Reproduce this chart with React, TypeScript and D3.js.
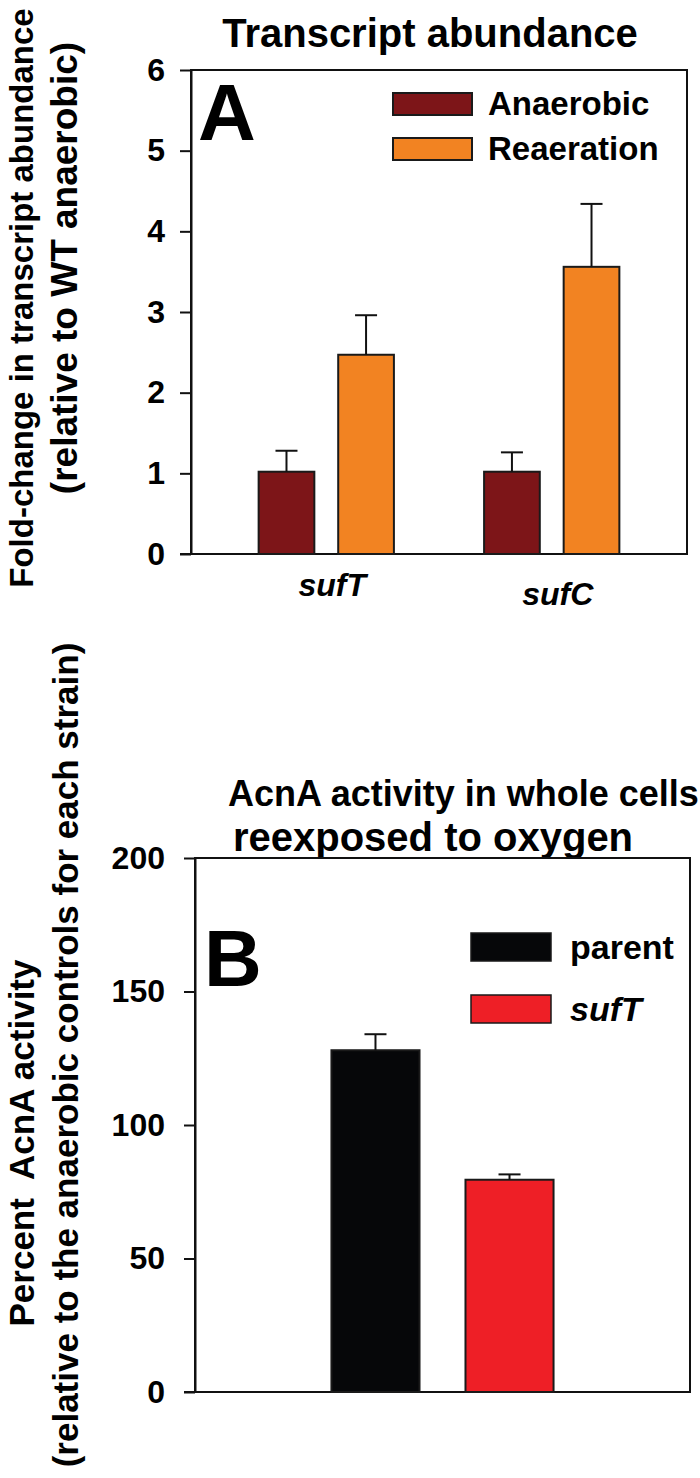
import * as d3 from 'd3';
import React, { useEffect, useRef } from 'react';

// Panel A: transcript abundance
const genes = ['sufT', 'sufC'];
const conditions = ['Anaerobic', 'Reaeration'];
const anaerobicMeans = [1.02, 1.02];
const anaerobicErrors = [0.26, 0.24];
const reaerationMeans = [2.47, 3.56];
const reaerationErrors = [0.49, 0.78];
const transcriptTicks = [0, 1, 2, 3, 4, 5, 6];

// Panel B: AcnA activity
const strains = ['parent', 'sufT'];
const activityMeans = [128, 79.5];
const activityErrors = [6, 2];
const activityTicks = [0, 50, 100, 150, 200];

const FONT = '"Liberation Sans", Arial, Helvetica, sans-serif';

export default function App() {
  const ref = useRef<SVGSVGElement>(null);

  useEffect(() => {
    if (!ref.current) return;
    document.body.style.margin = '0';
    const svg = d3.select(ref.current);
    svg.selectAll('*').remove();
    svg.attr('font-family', FONT).attr('font-weight', 'bold');

    // ---------- Panel A ----------
    const a = { left: 191, right: 687, top: 70, bottom: 554 };
    const yA = d3.scaleLinear().domain([0, 6]).range([a.bottom, a.top]);
    const xA = d3
      .scaleBand<string>()
      .domain(genes)
      .range([a.left, a.right])
      .paddingInner(0.4)
      .paddingOuter(0.3);
    const xInner = d3
      .scaleBand<string>()
      .domain(conditions)
      .range([0, xA.bandwidth()])
      .paddingInner(0.3);
    const colorA = d3.scaleOrdinal<string>().domain(conditions).range(['#7d1518', '#f28322']);

    const gA = svg.append('g');
    gA.append('text')
      .attr('x', 430)
      .attr('y', 47)
      .attr('text-anchor', 'middle')
      .attr('font-size', 40)
      .text('Transcript abundance');

    gA.append('rect')
      .attr('x', a.left)
      .attr('y', a.top)
      .attr('width', a.right - a.left)
      .attr('height', a.bottom - a.top)
      .attr('fill', 'none')
      .attr('stroke', '#111')
      .attr('stroke-width', 2);

    const axA = gA
      .append('g')
      .attr('transform', `translate(${a.left},0)`)
      .call(
        d3
          .axisLeft(yA)
          .tickValues(transcriptTicks)
          .tickFormat(d3.format('d'))
          .tickSize(11)
          .tickSizeOuter(0)
          .tickPadding(15)
      );
    axA.selectAll('path,line').attr('stroke', '#111').attr('stroke-width', 2);
    axA.selectAll('text').attr('font-size', 32).attr('fill', '#000').attr('font-family', FONT);
    gA.append('line')
      .attr('x1', a.left - 11)
      .attr('x2', a.right)
      .attr('y1', a.bottom)
      .attr('y2', a.bottom)
      .attr('stroke', '#111')
      .attr('stroke-width', 2);

    const rowsA = genes.flatMap((g, i) => [
      { gene: g, cond: conditions[0], v: anaerobicMeans[i], e: anaerobicErrors[i] },
      { gene: g, cond: conditions[1], v: reaerationMeans[i], e: reaerationErrors[i] },
    ]);
    const midA = (d: { gene: string; cond: string }) =>
      (xA(d.gene) as number) + (xInner(d.cond) as number) + xInner.bandwidth() / 2;

    gA.selectAll('rect.bar')
      .data(rowsA)
      .enter()
      .append('rect')
      .attr('class', 'bar')
      .attr('x', d => (xA(d.gene) as number) + (xInner(d.cond) as number))
      .attr('y', d => yA(d.v))
      .attr('width', xInner.bandwidth())
      .attr('height', d => yA(0) - yA(d.v))
      .attr('fill', d => colorA(d.cond))
      .attr('stroke', '#1a1a1a')
      .attr('stroke-width', 2);

    const errA = gA.selectAll('g.err').data(rowsA).enter().append('g');
    errA.append('line')
      .attr('x1', midA)
      .attr('x2', midA)
      .attr('y1', d => yA(d.v))
      .attr('y2', d => yA(d.v + d.e))
      .attr('stroke', '#111')
      .attr('stroke-width', 2);
    errA.append('line')
      .attr('x1', d => midA(d) - 11)
      .attr('x2', d => midA(d) + 11)
      .attr('y1', d => yA(d.v + d.e))
      .attr('y2', d => yA(d.v + d.e))
      .attr('stroke', '#111')
      .attr('stroke-width', 2);

    // gene labels (sufC sits a little lower in the original)
    const labelDrop: Record<string, number> = { sufT: 0, sufC: 9 };
    gA.selectAll('text.gene')
      .data(genes)
      .enter()
      .append('text')
      .attr('x', d => (xA(d) as number) + xA.bandwidth() / 2 + 6)
      .attr('y', d => 596 + labelDrop[d])
      .attr('text-anchor', 'middle')
      .attr('font-size', 32)
      .attr('font-style', 'italic')
      .text(d => d);

    gA.append('text')
      .attr('x', 198)
      .attr('y', 140)
      .attr('font-size', 80)
      .text('A');

    // legend A
    const legA = gA.append('g');
    conditions.forEach((c, i) => {
      legA.append('rect')
        .attr('x', 393)
        .attr('y', 93 + i * 45)
        .attr('width', 79)
        .attr('height', 22)
        .attr('fill', colorA(c))
        .attr('stroke', '#1a1a1a')
        .attr('stroke-width', 2);
      legA.append('text')
        .attr('x', 488)
        .attr('y', 115 + i * 45)
        .attr('font-size', 33)
        .text(c);
    });

    // y label A
    gA.append('text')
      .attr('transform', 'translate(33,298) rotate(-90)')
      .attr('text-anchor', 'middle')
      .attr('font-size', 33)
      .text('Fold-change in transcript abundance');
    gA.append('text')
      .attr('transform', 'translate(77,268) rotate(-90)')
      .attr('text-anchor', 'middle')
      .attr('font-size', 37)
      .text('(relative to WT anaerobic)');

    // ---------- Panel B ----------
    const b = { left: 195, right: 690, top: 858, bottom: 1392 };
    const yB = d3.scaleLinear().domain([0, 200]).range([b.bottom, b.top]);
    const xB = d3
      .scaleBand<string>()
      .domain(strains)
      .range([b.left, b.right])
      .paddingInner(0.343)
      .paddingOuter(1.018);
    const colorB = d3.scaleOrdinal<string>().domain(strains).range(['#060709', '#ee1f26']);

    const gB = svg.append('g');
    gB.append('text')
      .attr('x', 228)
      .attr('y', 806)
      .attr('font-size', 36)
      .text('AcnA activity in whole cells');
    gB.append('text')
      .attr('x', 433)
      .attr('y', 851)
      .attr('text-anchor', 'middle')
      .attr('font-size', 40)
      .text('reexposed to oxygen');

    gB.append('rect')
      .attr('x', b.left)
      .attr('y', b.top)
      .attr('width', b.right - b.left)
      .attr('height', b.bottom - b.top)
      .attr('fill', 'none')
      .attr('stroke', '#111')
      .attr('stroke-width', 2);

    const axB = gB
      .append('g')
      .attr('transform', `translate(${b.left},0)`)
      .call(
        d3
          .axisLeft(yB)
          .tickValues(activityTicks)
          .tickFormat(d3.format('d'))
          .tickSize(11)
          .tickSizeOuter(0)
          .tickPadding(19)
      );
    axB.selectAll('path,line').attr('stroke', '#111').attr('stroke-width', 2);
    axB.selectAll('text').attr('font-size', 32).attr('fill', '#000').attr('font-family', FONT);
    gB.append('line')
      .attr('x1', b.left - 11)
      .attr('x2', b.right)
      .attr('y1', b.bottom)
      .attr('y2', b.bottom)
      .attr('stroke', '#111')
      .attr('stroke-width', 2);

    const rowsB = strains.map((s, i) => ({ s, v: activityMeans[i], e: activityErrors[i] }));
    const midB = (d: { s: string }) => (xB(d.s) as number) + xB.bandwidth() / 2;
    gB.selectAll('rect.bar')
      .data(rowsB)
      .enter()
      .append('rect')
      .attr('x', d => xB(d.s) as number)
      .attr('y', d => yB(d.v))
      .attr('width', xB.bandwidth())
      .attr('height', d => yB(0) - yB(d.v))
      .attr('fill', d => colorB(d.s))
      .attr('stroke', '#1a1a1a')
      .attr('stroke-width', 2);
    const errB = gB.selectAll('g.err').data(rowsB).enter().append('g');
    errB.append('line')
      .attr('x1', midB)
      .attr('x2', midB)
      .attr('y1', d => yB(d.v))
      .attr('y2', d => yB(d.v + d.e))
      .attr('stroke', '#111')
      .attr('stroke-width', 2);
    errB.append('line')
      .attr('x1', d => midB(d) - 11)
      .attr('x2', d => midB(d) + 11)
      .attr('y1', d => yB(d.v + d.e))
      .attr('y2', d => yB(d.v + d.e))
      .attr('stroke', '#111')
      .attr('stroke-width', 2);

    gB.append('text')
      .attr('x', 204)
      .attr('y', 986)
      .attr('font-size', 80)
      .text('B');

    // legend B
    const legB = gB.append('g');
    strains.forEach((s, i) => {
      legB.append('rect')
        .attr('x', 471)
        .attr('y', 933 + i * 62)
        .attr('width', 80)
        .attr('height', 28)
        .attr('fill', colorB(s))
        .attr('stroke', '#1a1a1a')
        .attr('stroke-width', 1.5);
      legB.append('text')
        .attr('x', 570)
        .attr('y', 959 + i * 62)
        .attr('font-size', 34)
        .attr('font-style', i === 1 ? 'italic' : 'normal')
        .text(s);
    });

    // y label B
    gB.append('text')
      .attr('transform', 'translate(34,1143) rotate(-90)')
      .attr('text-anchor', 'middle')
      .attr('font-size', 35)
      .style('white-space', 'pre')
      .text('Percent  AcnA activity');
    gB.append('text')
      .attr('transform', 'translate(78,1055) rotate(-90)')
      .attr('text-anchor', 'middle')
      .attr('font-size', 35)
      .text('(relative to the anaerobic controls for each strain)');
  }, []);

  return <svg ref={ref} width={700} height={1478} style={{ display: 'block', background: '#fff' }} />;
}
